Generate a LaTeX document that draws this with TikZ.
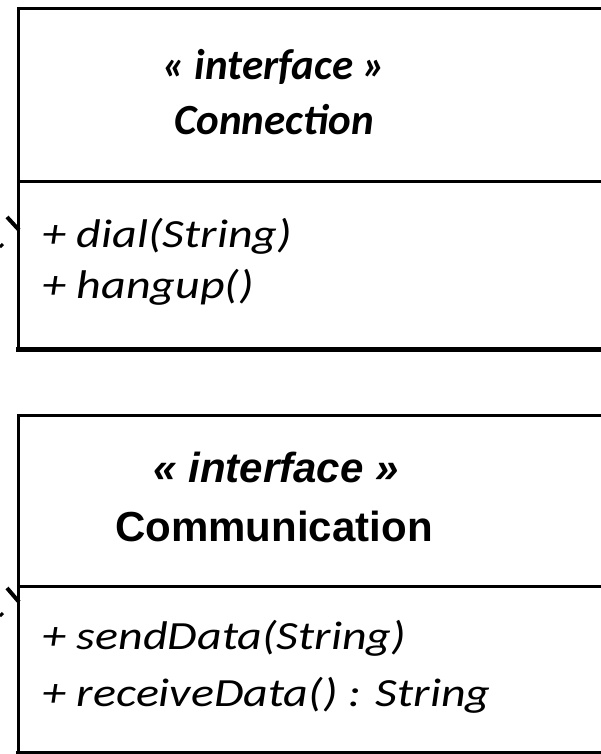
\documentclass[tikz,border=0pt]{standalone}
\usepackage{fontspec}
\usepackage{tikz}
\newfontfamily\calfont{Carlito}[FakeStretch=1.2]
\newfontfamily\calhead{Carlito}
\newfontfamily\arialfont{Liberation Sans}
\tikzset{
    boxline/.style={line width=3pt},
    opstext/.style={anchor=base west, inner sep=0pt, font=\calfont\itshape\fontsize{40}{48}\selectfont},
    headcal/.style={anchor=base, inner sep=0pt, font=\calhead\bfseries\itshape\fontsize{43}{48}\selectfont},
    headarial/.style={anchor=base, inner sep=0pt, font=\arialfont\bfseries\fontsize{42}{48}\selectfont},
}

\begin{document}
\begin{tikzpicture}[x=1pt, y=-1pt]
    \useasboundingbox (0,0) rectangle (601,754);
    \clip (0,0) rectangle (601,754);
    \fill[white] (0,0) rectangle (601,754);
    % Connection
    \draw[boxline] (630,9) -- (18,9) -- (18,349);
    \draw[boxline] (18,181) -- (630,181);
    \draw[line width=5pt] (16,349) -- (630,349);
    \node[headcal] (connStereo) at (274,80) {« interface »};
    \node[headcal] (connName) at (274,135) {Connection};
    \node[opstext] (connDial) at (42,247) {+ dial(String)};
    \node[opstext] (connHang) at (42,298) {+ hangup()};
    % Communication
    \draw[boxline] (630,415) -- (18,415) -- (18,760);
    \draw[boxline] (18,586) -- (630,586);
    \draw[boxline] (16,752) -- (630,752);
    \node[headarial, font=\arialfont\bfseries\itshape\fontsize{42}{48}\selectfont] (commStereo) at (276,482) {« interface »};
    \node[headarial] (commName) at (274,541) {Communication};
    \node[opstext] (commSend) at (42,649) {+ sendData(String)};
    \node[opstext] (commRecv) at (42,706) {+ receiveData() : String};
    % dashed arrows coming in from the left
    \coordinate (connIn) at (19,230);
    \coordinate (connTail) at (7,217);
    \coordinate (commIn) at (19,602);
    \coordinate (commTail) at (7,588);
    \draw[line width=4pt] (connTail) -- (connIn);
    \draw[line width=3pt] (0,247) -- (3,244);
    \draw[line width=4pt] (commTail) -- (commIn);
    \draw[line width=3pt] (0,616) -- (3,613);
\end{tikzpicture}
\end{document}
